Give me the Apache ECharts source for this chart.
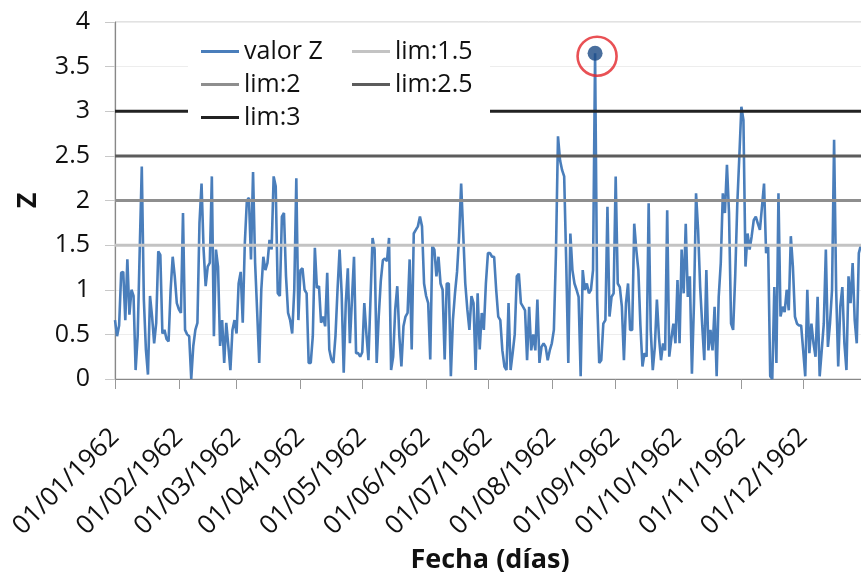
<!DOCTYPE html>
<html>
<head>
<meta charset="utf-8">
<script src="https://cdn.jsdelivr.net/npm/echarts@6/dist/echarts.min.js"></script>
<style>
html,body{margin:0;padding:0;background:#fff;}
#chart{width:861px;height:572px;}
</style>
</head>
<body>
<div id="chart"></div>
<script>
// ---- data (daily Z values, 1962) ----
const year = 1962;
const monthLengths = [31,28,31,30,31,30,31,31,30,31,30,31];
const monthTickLabels = ['01/01/1962','01/02/1962','01/03/1962','01/04/1962','01/05/1962','01/06/1962',
                         '01/07/1962','01/08/1962','01/09/1962','01/10/1962','01/11/1962','01/12/1962'];
const zJan = [0.66,0.48,0.6,1.19,1.2,0.66,1.34,0.72,1.0,0.93,0.1,0.48,1.45,2.38,0.89,0.33,0.05,0.93,0.7,0.4,0.63,1.43,1.39,0.51,0.55,0.45,0.42,1.0,1.37,1.15,0.85];
const zFeb = [0.78,0.74,1.86,0.55,0.5,0.48,0.0,0.37,0.55,0.63,1.75,2.19,1.45,1.04,1.26,1.3,2.27,0.48,1.45,1.26,0.37,0.66,0.18,0.63,0.37,0.1,0.55,0.66];
const zMar = [0.51,1.07,1.2,0.63,1.52,2.0,2.03,1.34,2.32,1.3,0.75,0.18,1.0,1.37,1.22,1.3,1.56,1.45,2.27,2.16,0.96,0.93,1.82,1.86,1.15,0.74,0.66,0.51,1.0,2.25,0.66];
const zApr = [1.22,1.24,1.0,0.96,0.18,0.18,0.48,1.47,1.02,1.04,0.63,0.7,0.59,1.19,0.33,0.22,0.18,0.48,1.0,1.45,0.96,0.07,0.85,1.24,0.4,0.89,1.37,0.29,0.29,0.25];
const zMay = [0.3,0.85,0.51,0.21,0.9,1.58,1.45,0.18,0.7,1.1,1.33,1.35,1.32,1.58,0.1,0.25,0.78,1.04,0.48,0.14,0.59,0.7,0.74,1.34,0.33,1.63,1.67,1.71,1.82,1.71,1.07];
const zJun = [0.93,0.85,0.22,1.49,1.45,1.15,1.37,1.07,1.0,0.22,1.07,1.07,0.03,0.66,0.96,1.2,1.6,2.19,1.63,1.07,0.78,0.55,0.93,0.85,0.1,0.96,0.33,0.74,0.55,1.07];
const zJul = [1.41,1.41,1.37,1.37,1.0,0.7,0.66,0.32,0.14,0.1,0.85,0.1,0.29,0.5,1.15,1.18,0.85,0.81,0.77,0.21,0.81,0.32,0.5,0.32,0.89,0.18,0.36,0.4,0.36,0.21,0.32];
const zAug = [0.4,0.55,1.4,2.72,2.45,2.34,2.27,1.3,0.18,1.63,1.22,1.07,1.0,0.92,0.03,1.22,1.0,1.07,0.96,1.0,1.22,3.65,0.9,0.18,0.21,0.62,0.66,1.93,0.7,0.92,0.96];
const zSep = [2.27,1.07,1.03,0.81,0.21,0.85,1.07,0.55,0.55,1.74,1.45,1.22,0.6,0.14,0.29,0.25,1.97,0.55,0.1,0.36,0.89,0.47,0.21,0.4,0.32,1.89,0.25,0.45,0.62,0.4];
const zOct = [1.11,0.4,1.45,0.96,1.74,0.92,1.15,0.06,0.85,2.08,1.67,1.03,0.6,0.21,1.22,0.32,0.55,0.32,0.81,0.03,0.92,1.3,2.08,1.86,2.4,1.86,0.62,0.55,1.15,1.95,2.49];
const zNov = [3.05,2.9,1.26,1.63,1.45,1.6,1.78,1.82,1.74,1.67,1.93,2.19,1.41,1.48,0.03,0.0,1.03,0.18,2.08,0.7,0.81,0.75,1.0,0.77,1.6,1.26,0.7,0.62,0.6,0.6];
const zDec = [0.32,0.03,1.0,0.29,0.62,0.4,0.25,0.92,0.03,0.32,0.62,1.45,0.36,0.62,1.0,2.68,1.0,0.14,0.81,1.03,0.4,0.1,1.15,0.85,1.3,0.66,0.4,1.41,1.5,null,null];
const limitValues = [1.5, 2, 2.5, 3];
const limitNames = ['lim:1.5', 'lim:2', 'lim:2.5', 'lim:3'];
const limitColors = ['#c3c3c3', '#8e8e8e', '#5c5c5c', '#222222'];
const yTicks = ['0','0.5','1','1.5','2','2.5','3','3.5','4'];

// ---- build ----
const zValues = [].concat(zJan, zFeb, zMar, zApr, zMay, zJun, zJul, zAug, zSep, zOct, zNov, zDec);
const pad = n => (n < 10 ? '0' : '') + n;
const dates = [];
monthLengths.forEach((len, m) => {
  for (let d = 1; d <= len; d++) dates.push(pad(d) + '/' + pad(m + 1) + '/' + year);
});
const isMonthStart = (idx, val) => monthTickLabels.indexOf(val) >= 0;

let maxIdx = 0;
zValues.forEach((v, i) => { if (v != null && v > zValues[maxIdx]) maxIdx = i; });

const FONT = 'Open Sans';
const BLUE = '#4a7ebb';
const series = [{
  name: 'valor Z',
  type: 'line',
  data: zValues,
  symbol: 'none',
  showSymbol: false,
  lineStyle: { color: BLUE, width: 2.6 },
  itemStyle: { color: BLUE },
  connectNulls: false,
  z: 2
}];
limitValues.forEach((v, i) => {
  series.push({
    name: limitNames[i],
    type: 'line',
    data: [[dates[0], v], [dates[dates.length - 1], v]],
    symbol: 'none',
    showSymbol: false,
    lineStyle: { color: limitColors[i], width: 3 },
    itemStyle: { color: limitColors[i] },
    z: 3
  });
});
series.push({
  name: 'maxPoint',
  type: 'scatter',
  data: [[dates[maxIdx], zValues[maxIdx]]],
  symbol: 'circle',
  symbolSize: 15,
  itemStyle: { color: '#1c4a85' },
  z: 5
});
series.push({
  name: 'maxRing',
  type: 'scatter',
  data: [[dates[maxIdx], zValues[maxIdx]]],
  symbol: 'circle',
  symbolSize: 39,
  symbolOffset: [2, 3],
  itemStyle: { color: 'rgba(0,0,0,0)', borderColor: '#e3252b', borderWidth: 2.6 },
  z: 5
});

const legendNames = ['valor Z', 'lim:1.5', 'lim:2', 'lim:2.5', 'lim:3'];
const legendTextWidths = [108, 82, 108, 82, 108];

const chart = echarts.init(document.getElementById('chart'), null, { renderer: 'canvas' });
chart.setOption({
  animation: false,
  backgroundColor: '#ffffff',
  grid: { left: 115, right: -4, top: 22, bottom: 193, containLabel: false, outerBoundsMode: 'none',
          show: true, borderColor: '#c4c4c4', borderWidth: 1, backgroundColor: 'transparent' },
  legend: {
    left: 188, top: 28,
    width: 320,
    orient: 'horizontal',
    itemGap: 0,
    itemWidth: 38,
    itemHeight: 3,
    icon: 'rect',
    padding: [7, 13, 4, 13],
    backgroundColor: '#ffffff',
    data: legendNames.map((n, i) => ({ name: n, icon: 'rect', textStyle: { width: legendTextWidths[i] } })),
    textStyle: { fontFamily: FONT, fontSize: 25, color: '#111', lineHeight: 33 }
  },
  xAxis: {
    type: 'category',
    data: dates,
    boundaryGap: false,
    name: 'Fecha (días)',
    nameLocation: 'middle',
    nameGap: 164,
    nameTextStyle: { fontFamily: FONT, fontSize: 27, fontWeight: 'bold', color: '#111' },
    axisLine: { show: true, lineStyle: { color: '#888888', width: 1.2 } },
    axisTick: { show: true, interval: isMonthStart, length: 10, lineStyle: { color: '#999999' } },
    axisLabel: { interval: isMonthStart, rotate: 45, margin: 54, fontFamily: FONT, fontSize: 26, color: '#111' },
    splitLine: { show: false }
  },
  yAxis: {
    type: 'value',
    min: 0, max: 4, interval: 0.5,
    name: 'Z',
    nameLocation: 'middle',
    nameGap: 73,
    nameTextStyle: { fontFamily: FONT, fontSize: 27, fontWeight: 'bold', color: '#111' },
    axisLine: { show: true, lineStyle: { color: '#888888', width: 1.2 } },
    axisTick: { show: true, length: 10, lineStyle: { color: '#c8c8c8' } },
    axisLabel: { margin: 25, fontFamily: FONT, fontSize: 25, color: '#111',
      formatter: (v) => yTicks[Math.round(v / 0.5)] },
    splitLine: { show: true, lineStyle: { color: '#ededed', width: 1 } }
  },
  series: series
});
</script>
</body>
</html>
